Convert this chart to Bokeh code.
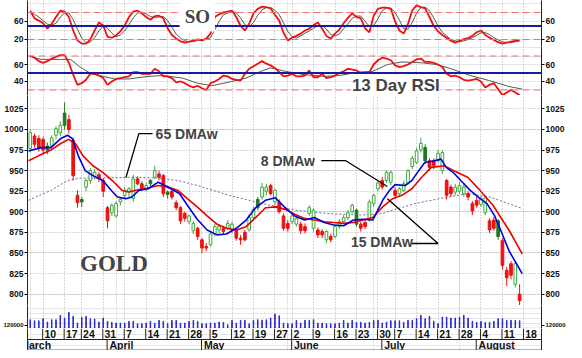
from bokeh.plotting import figure
from bokeh.models import (Range1d, LinearAxis, FixedTicker, Grid, Span, Label,
                          ColumnDataSource)
from bokeh.layouts import column
from bokeh.embed import file_html
from bokeh.resources import INLINE
from bokeh.core.properties import value

# ---------------- data (trading-day index 0 = 5 Mar 2008) ----------------
opens = [977, 992, 989, 988, 975, 980, 993, 996, 1005, 1012, 987, 920, 912, 930, 938, 943, 945, 938, 905, 899,
         895, 912, 920, 924, 916, 940, 934, 928, 934, 942, 946, 944, 921, 925, 911, 905, 892, 888, 886, 880,
         866, 856, 860, 873, 882, 876, 880, 885, 878, 868, 866, 878, 893, 905, 918, 930, 922, 926, 912, 895,
         880, 888, 892, 885, 877, 898, 902, 878, 872, 876, 866, 870, 882, 888, 893, 900, 902, 885, 882, 890,
         910, 935, 930, 938, 948, 920, 922, 926, 935, 955, 960, 975, 978, 962, 956, 962, 972, 938, 922, 924,
         925, 930, 922, 910, 908, 909, 917, 889, 880, 889, 865, 829, 823, 837, 800]
highs = [1000, 995, 993, 991, 984, 993, 1004, 1010, 1033, 1018, 990, 926, 918, 940, 953, 952, 948, 941, 907, 910,
         913, 918, 930, 930, 945, 943, 937, 935, 940, 956, 950, 946, 926, 928, 914, 907, 900, 897, 889, 882,
         868, 862, 876, 886, 885, 883, 890, 888, 880, 872, 878, 897, 906, 918, 935, 934, 934, 928, 915, 898,
         890, 898, 895, 888, 886, 908, 904, 881, 879, 878, 873, 885, 891, 896, 902, 910, 904, 888, 890, 915,
         922, 937, 942, 950, 950, 930, 930, 938, 952, 968, 978, 990, 982, 965, 965, 975, 975, 940, 933, 934,
         936, 933, 925, 913, 918, 919, 920, 892, 894, 891, 868, 833, 840, 840, 812]
lows = [972, 978, 973, 970, 970, 976, 988, 992, 1000, 995, 938, 905, 906, 925, 934, 939, 936, 918, 880, 895,
        893, 908, 916, 918, 912, 932, 926, 925, 930, 940, 938, 918, 916, 915, 902, 885, 888, 885, 873, 866,
        850, 852, 858, 870, 874, 873, 878, 874, 865, 860, 864, 876, 890, 902, 915, 920, 920, 908, 898, 877,
        876, 885, 882, 873, 874, 895, 876, 868, 868, 862, 863, 868, 879, 885, 890, 898, 882, 876, 879, 888,
        906, 925, 927, 935, 932, 916, 918, 924, 933, 952, 958, 972, 958, 950, 952, 960, 946, 915, 918, 920,
        922, 918, 914, 896, 905, 906, 896, 874, 877, 866, 830, 810, 818, 808, 778]
closes = [996, 982, 977, 975, 980, 990, 1001, 1005, 1020, 1000, 944, 911, 915, 938, 950, 948, 940, 925, 889, 908,
          910, 915, 926, 928, 940, 934, 928, 932, 938, 950, 942, 922, 924, 918, 905, 889, 898, 895, 877, 870,
          856, 858, 873, 882, 878, 880, 886, 878, 868, 866, 875, 893, 903, 915, 930, 925, 932, 912, 900, 880,
          886, 895, 885, 877, 882, 905, 880, 872, 876, 866, 870, 882, 888, 893, 899, 908, 885, 880, 887, 912,
          920, 928, 938, 948, 936, 926, 928, 934, 950, 965, 974, 983, 962, 954, 962, 971, 950, 920, 930, 930,
          932, 922, 918, 901, 914, 916, 899, 878, 890, 870, 835, 820, 837, 812, 792]
# u = rising (hollow green), s = rising (solid green), d = falling (red)
kinds = ("udddsuuusddd" "suuudddu" "uuuuuddusuddsdddduudd" "duuuduuddd" "uusuudu" "dddu" "uddu" "uddud"
         "uuuuusdduuudu" "uduuuuuusdduudduuudddu" "uddsdddudd")
volume_k = [83, 73, 73, 93, 60, 83, 83, 127, 100, 157, 117, 50, 107, 117, 93, 90, 60, 100, 67, 57,
            50, 50, 50, 67, 67, 43, 43, 50, 67, 50, 77, 67, 43, 77, 77, 50, 50, 67, 77, 67,
            43, 43, 50, 50, 60, 57, 33, 77, 50, 77, 77, 43, 77, 83, 77, 83, 100, 140, 123, 50,
            43, 43, 77, 50, 77, 77, 83, 50, 50, 43, 43, 43, 50, 77, 50, 77, 57, 57, 50, 57,
            77, 77, 50, 60, 73, 73, 73, 57, 77, 77, 93, 127, 93, 117, 67, 43, 110, 110, 100, 100,
            107, 127, 100, 67, 57, 67, 57, 57, 67, 93, 93, 77, 77, 77, 73]

ma8_x = [-0.4, 2.5, 4.8, 7.1, 8.7, 9.8, 11.2, 12.8, 14.6, 16.9, 18.9, 20.3, 22.3, 23.7, 25.3, 27.5, 29.8,
         31.4, 32.8, 34.8, 36.6, 38.9, 41.2, 43.5, 45.7, 48.0, 50.3, 52.5, 54.8, 57.1, 59.4, 61.6, 63.9,
         66.2, 68.5, 70.7, 73.0, 75.3, 77.5, 79.8, 82.1, 83.7, 85.0, 87.3, 88.9, 90.5, 91.9, 94.1, 95.7,
         96.9, 98.5, 100.3, 102.5, 104.8, 106.4, 108.2, 109.4, 111.6, 114.6]
ma8 = [974, 978, 978, 989, 993, 989, 968, 950, 944, 938, 926, 918, 916, 918, 926, 928, 936,
       932, 928, 922, 908, 891, 878, 872, 873, 880, 890, 905, 914, 917, 905, 895, 890,
       893, 887, 884, 883, 890, 891, 890, 914, 926, 933, 932, 938, 950, 960, 962, 964,
       954, 948, 938, 926, 916, 910, 895, 880, 852, 825]
ma15_x = [-0.4, 1.9, 4.8, 7.1, 8.9, 10.5, 12.3, 14.6, 16.9, 19.1, 21.4, 23.0, 25.3, 27.5, 29.8, 32.1,
          34.4, 36.6, 38.9, 41.2, 43.5, 45.7, 48.0, 50.3, 52.5, 54.8, 57.1, 59.4, 61.6, 63.9, 66.2, 68.5,
          70.7, 73.0, 75.3, 77.5, 79.8, 82.1, 84.4, 86.6, 88.9, 91.2, 93.4, 96.4, 98.7, 101.9, 104.8,
          107.8, 110.0, 111.6, 114.6]
ma15 = [962, 968, 975, 983, 988, 983, 968, 956, 948, 938, 926, 924, 927, 929, 932, 930,
        926, 916, 906, 895, 885, 880, 878, 882, 893, 905, 906, 903, 897, 892, 890, 888,
        887, 886, 887, 890, 893, 906, 916, 920, 928, 942, 954, 956, 950, 942, 926,
        908, 890, 877, 849]
ma65_x = [-0.4, 4.8, 8.7, 11.6, 16.2, 23.7, 29.8, 34.4, 38.9, 46.4, 54.1, 61.6, 69.1, 76.9, 82.1, 84.4,
          89.6, 97.3, 101.9, 107.1, 114.6]
ma65 = [914, 926, 938, 941, 941, 942, 941, 938, 932, 920, 910, 902, 898, 896, 898, 902,
        910, 918, 922, 918, 904]

so_fast = [84, 67, 62, 56, 44, 55, 70, 84, 82, 70, 40, 18, 11, 11, 20, 40, 58, 51, 26, 24,
           29, 38, 51, 70, 82, 84, 78, 70, 64, 72, 73, 67, 45, 30, 22, 16, 13, 15, 18, 20,
           18, 22, 33, 70, 76, 80, 82, 84, 70, 50, 40, 55, 78, 88, 93, 92, 89, 75, 62, 35,
           18, 24, 28, 33, 40, 44, 52, 58, 44, 28, 22, 33, 42, 56, 68, 78, 70, 67, 45, 36,
           73, 88, 91, 91, 88, 60, 40, 33, 55, 85, 96, 92, 89, 70, 50, 38, 30, 24, 17, 13,
           17, 21, 23, 28, 36, 40, 30, 24, 19, 14, 11, 13, 15, 17, 18]
so_slow = [80, 76, 70, 62, 54, 52, 56, 70, 79, 79, 64, 43, 23, 13, 14, 24, 39, 50, 45, 34,
           26, 30, 39, 53, 68, 79, 81, 77, 71, 69, 70, 71, 62, 47, 32, 23, 17, 15, 15, 18,
           19, 20, 24, 42, 60, 75, 79, 82, 79, 68, 53, 48, 58, 74, 86, 91, 91, 85, 75, 57,
           38, 26, 23, 28, 34, 39, 45, 51, 51, 43, 31, 28, 32, 44, 55, 67, 72, 72, 61, 49,
           51, 66, 84, 90, 90, 80, 63, 44, 43, 58, 79, 91, 92, 84, 68, 50, 36, 28, 20, 17,
           15, 17, 20, 24, 29, 35, 35, 31, 24, 19, 15, 13, 13, 15, 17]
rsi_fast = [70, 68, 64, 62, 64, 67, 69, 71, 71, 62, 48, 36, 38, 42, 49, 49, 47, 44, 36, 40,
            43, 44, 45, 46, 51, 51, 49, 49, 49, 55, 52, 46, 46, 44, 39, 40, 38, 35, 33, 35,
            32, 30, 38, 40, 43, 47, 46, 43, 42, 41, 49, 55, 58, 61, 64, 61, 59, 56, 51, 46,
            47, 49, 46, 46, 47, 53, 45, 45, 49, 44, 45, 47, 50, 52, 55, 54, 53, 50, 50, 51,
            60, 65, 68, 67, 65, 59, 57, 58, 60, 63, 66, 67, 63, 63, 62, 60, 57, 49, 46, 47,
            45, 42, 41, 42, 43, 40, 33, 36, 38, 31, 24, 27, 30, 27, 24]
rsi_slow_x = [-0.4, 2.5, 7.1, 9.4, 11.6, 13.9, 16.2, 19.6, 23.0, 27.5, 31.0, 35.5, 38.9, 42.3, 46.9,
              50.3, 53.7, 56.0, 59.4, 63.9, 68.5, 71.9, 76.4, 79.8, 83.2, 86.6, 91.2, 94.6, 98.0,
              102.5, 107.0, 111.6, 114.6]
rsi_slow = [70, 66, 66, 66, 57, 50, 47, 43, 43, 46, 47, 44, 38, 35, 40,
            44, 52, 56, 52, 48, 46, 47, 51, 52, 60, 63, 62, 60, 55,
            47, 41, 34, 31]

week_idx = [3, 8, 12, 17, 22, 27, 32, 37, 42, 47, 52, 57, 61, 66, 71, 76, 81, 85, 90, 95, 100, 105, 110, 115]
week_lbl = ["10", "17", "24", "31", "7", "14", "21", "28", "5", "12", "19", "27", "2", "9", "16", "23",
            "30", "7", "14", "21", "28", "4", "11", "18"]
month_idx = [-2.8, 18, 40, 61, 82, 104]
month_lbl = ["March", "April", "May", "June", "July", "August"]
price_ticks = [800, 825, 850, 875, 900, 925, 950, 975, 1000, 1025]

# ---------------- styling ----------------
W = 568
LB, RB = 23, 23
FONT = "Liberation Sans"
RED = "#ee1111"
xr = Range1d(-0.64, 119.1)


def base_fig(h, yr):
    p = figure(width=W, height=h, x_range=xr, y_range=yr, output_backend="svg",
               toolbar_location=None, x_axis_location=None, y_axis_location=None,
               min_border_left=LB, min_border_right=RB, min_border_top=0, min_border_bottom=0)
    p.outline_line_color = None
    p.background_fill_color = "white"
    p.border_fill_color = "white"
    return p


def add_yaxes(p, ticks, overrides=None, size="8.5px"):
    for side in ("left", "right"):
        ax = LinearAxis(ticker=FixedTicker(ticks=ticks))
        ax.major_label_text_font = FONT
        ax.major_label_text_font_style = "bold"
        ax.major_label_text_font_size = size
        ax.major_label_text_color = "#111111"
        ax.major_tick_out = 3
        ax.major_tick_in = 0
        ax.minor_tick_out = 0
        ax.minor_tick_in = 0
        ax.major_label_standoff = 1
        ax.axis_line_color = "#222222"
        if overrides:
            ax.major_label_overrides = overrides
        p.add_layout(ax, side)


def add_vgrid(p):
    p.add_layout(Grid(dimension=0, ticker=FixedTicker(ticks=week_idx),
                      grid_line_color="#b0b0b0", grid_line_dash="1 2"))


def add_hgrid(p, ticks):
    p.add_layout(Grid(dimension=1, ticker=FixedTicker(ticks=ticks),
                      grid_line_color="#b0b0b0", grid_line_dash="1 2"))


days = list(range(len(closes)))

# ---------------- SO panel ----------------
p_so = base_fig(46, Range1d(4.4, 106.7))
add_yaxes(p_so, [20, 60])
add_vgrid(p_so)
for lv in (80, 20):
    p_so.add_layout(Span(location=lv, dimension="width", line_color="#f07070", line_dash="7 4", line_width=1))
p_so.add_layout(Span(location=50, dimension="width", line_color="#1a1aa0", line_width=2))
p_so.line(days, so_slow, line_color="#4d5e4d", line_width=1)
p_so.line(days, so_fast, line_color=RED, line_width=1.8)
p_so.add_layout(Label(x=34.8, y=72, text="SO", text_font="Liberation Serif",
                      text_font_style="bold", text_font_size="19px", text_baseline="middle",
                      background_fill_color="white", padding=5))

# ---------------- RSI panel ----------------
p_rsi = base_fig(49, Range1d(23.5, 81.2))
add_yaxes(p_rsi, [40, 60])
add_vgrid(p_rsi)
for lv in (70, 30):
    p_rsi.add_layout(Span(location=lv, dimension="width", line_color="#f07070", line_dash="7 4", line_width=1))
p_rsi.add_layout(Span(location=50, dimension="width", line_color="#1a1aa0", line_width=2))
p_rsi.line(rsi_slow_x, rsi_slow, line_color="#4d5e4d", line_width=1)
p_rsi.line(days, rsi_fast, line_color=RED, line_width=1.8)
p_rsi.add_layout(Label(x=74.7, y=35.0, text="13 Day RSI", text_font=FONT,
                       text_font_style="bold", text_font_size="17px", text_baseline="middle",
                       background_fill_color="white", padding=1))

# ---------------- price panel ----------------
p_pr = base_fig(210, Range1d(786.2, 1041.3))
add_yaxes(p_pr, price_ticks)
add_vgrid(p_pr)
add_hgrid(p_pr, price_ticks)

fill_map = {"u": "white", "s": "#1f7a1f", "d": RED}
line_map = {"u": "#3da83d", "s": "#1f7a1f", "d": RED}
src = ColumnDataSource(dict(
    i=days, o=opens, h=highs, l=lows, c=closes,
    top=[max(a, b) for a, b in zip(opens, closes)],
    bot=[min(a, b) for a, b in zip(opens, closes)],
    fill=[fill_map[k] for k in kinds],
    line=[line_map[k] for k in kinds],
))
p_pr.line(ma65_x, ma65, line_color="#6a6aa8", line_dash="2 2", line_width=1)
p_pr.segment(x0="i", y0="l", x1="i", y1="h", line_color="line", line_width=1, source=src)
p_pr.vbar(x="i", width=0.62, top="top", bottom="bot", fill_color="fill", line_color="line",
          line_width=1, source=src)
p_pr.line(ma15_x, ma15, line_color="#ee0000", line_width=1.6)
p_pr.line(ma8_x, ma8, line_color="#0000e0", line_width=1.6)

lab_style = dict(text_font=FONT, text_font_style="bold", text_font_size="14px", text_baseline="middle")
p_pr.add_layout(Label(x=29.2, y=995, text="65 DMAw", **lab_style))
p_pr.add_layout(Label(x=53.7, y=962, text="8 DMAw", **lab_style))
p_pr.add_layout(Label(x=74.7, y=863, text="15 DMAw", **lab_style))
p_pr.add_layout(Label(x=11.6, y=837, text="GOLD", text_font="Liberation Serif", text_font_style="bold",
                      text_font_size="23px", text_baseline="middle"))
p_pr.line([28.5, 25.3, 22.3], [995, 995, 941.7], line_color="black", line_width=1.3)
p_pr.line([67.8, 73.4, 83.2], [962.3, 962.3, 930.7], line_color="black", line_width=1.3)
p_pr.line([88.9, 95.0, 83.2], [861.5, 861.5, 916.0], line_color="black", line_width=1.3)

# ---------------- volume panel ----------------
p_vol = base_fig(23, Range1d(-5, 225))
add_yaxes(p_vol, [30], overrides={30: "120000"}, size="6px")
add_vgrid(p_vol)
p_vol.vbar(x=days, width=0.12, top=volume_k, bottom=0, fill_color="#2a2ad0", line_color="#2a2ad0",
           line_width=1)
p_vol.add_layout(Span(location=-4.5, dimension="width", line_color="#222222", line_width=1))

# ---------------- date rows ----------------
p_dt = base_fig(22, Range1d(0, 2))
p_dt.add_layout(Span(location=1, dimension="width", line_color="#222222", line_width=1))
p_dt.add_layout(Span(location=0.03, dimension="width", line_color="#222222", line_width=1))
p_dt.segment(x0=[i - 0.1 for i in week_idx], y0=1, x1=[i - 0.1 for i in week_idx], y1=2,
             line_color="#222222", line_width=1)
p_dt.segment(x0=[i - 0.1 for i in month_idx[1:]], y0=0, x1=[i - 0.1 for i in month_idx[1:]], y1=1,
             line_color="#222222", line_width=1)
p_dt.text(x=[i + 0.3 for i in week_idx], y=1.48, text=week_lbl, text_font=value(FONT),
          text_font_style="bold", text_font_size="10.5px", text_baseline="middle", text_align="left",
          text_color="#111111")
p_dt.text(x=[i + 0.45 for i in month_idx], y=0.48, text=month_lbl, text_font=value(FONT),
          text_font_style="bold", text_font_size="10.5px", text_baseline="middle", text_align="left",
          text_color="#111111")
for side in ("left", "right"):
    ax = LinearAxis(ticker=FixedTicker(ticks=[]), axis_line_color="#222222")
    p_dt.add_layout(ax, side)

layout = column(p_so, p_rsi, p_pr, p_vol, p_dt, spacing=0)
open("out.html", "w").write(file_html(layout, INLINE))
